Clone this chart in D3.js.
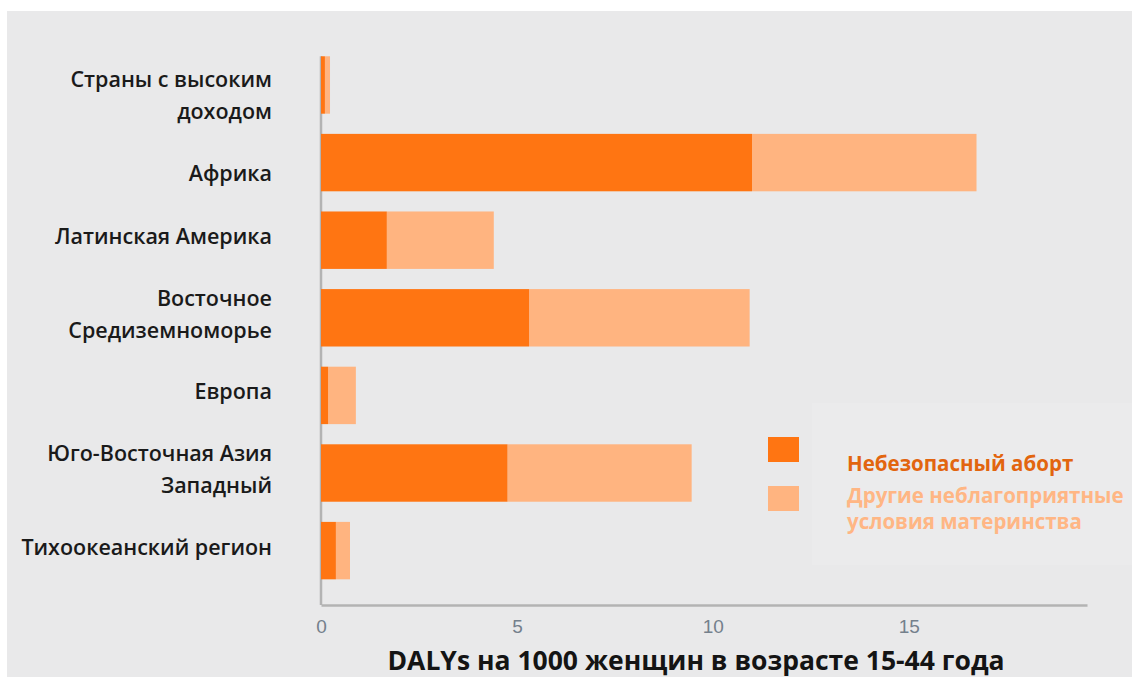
<!DOCTYPE html>
<html lang="ru">
<head>
<meta charset="utf-8">
<script src="https://cdn.jsdelivr.net/npm/d3@7"></script>
<style>
  html, body { margin: 0; padding: 0; background: #ffffff; }
  svg { display: block; }
</style>
</head>
<body>
<svg id="chart" width="1132" height="677"></svg>
<script>
// Regions (top to bottom), each label split into its drawn lines
const categories = [
  "Страны с высоким доходом",
  "Африка",
  "Латинская Америка",
  "Восточное Средиземноморье",
  "Европа",
  "Юго-Восточная Азия Западный",
  "Тихоокеанский регион"
];
const categoryLines = [
  ["Страны с высоким", "доходом"],
  ["Африка"],
  ["Латинская Америка"],
  ["Восточное", "Средиземноморье"],
  ["Европа"],
  ["Юго-Восточная Азия", "Западный"],
  ["Тихоокеанский регион"]
];
// DALYs per 1000 women aged 15-44
const unsafeAbortion = [0.10, 11.00, 1.68, 5.31, 0.18, 4.76, 0.38];
const otherMaternal  = [0.13,  5.73, 2.73, 5.63, 0.71, 4.70, 0.36];
const xTicks = [0, 5, 10, 15];
const seriesNames = ["Небезопасный аборт", "Другие неблагоприятные условия материнства"];
const axisTitle = "DALYs на 1000 женщин в возрасте 15-44 года";

const colDark = "#ff7512";
const colLight = "#ffb480";

const svg = d3.select("#chart");

// panel background
svg.append("rect").attr("x", 7).attr("y", 11).attr("width", 1125).attr("height", 666)
  .attr("fill", "#e9e9ea");
svg.append("rect").attr("x", 812).attr("y", 403).attr("width", 320).attr("height", 162)
  .attr("fill", "#ebebec");

const x = d3.scaleLinear().domain([0, 19.55]).range([321, 1087]);
const y = d3.scaleBand().domain(categories).range([36.1, 599.5])
  .paddingInner(0.26).paddingOuter(0.26);

const rows = categories.map((c, i) => ({
  cat: c, lines: categoryLines[i], a: unsafeAbortion[i], b: otherMaternal[i]
}));

// vertical baseline
svg.append("line").attr("x1", 321).attr("x2", 321)
  .attr("y1", y(categories[0])).attr("y2", 605)
  .attr("stroke", "#b3b3b3").attr("stroke-width", 2.5);

// stacked bars
const g = svg.append("g");
g.selectAll("rect.b").data(rows).join("rect").attr("class", "b")
  .attr("x", d => x(d.a)).attr("y", d => y(d.cat))
  .attr("width", d => x(d.a + d.b) - x(d.a)).attr("height", y.bandwidth())
  .attr("fill", colLight);
g.selectAll("rect.a").data(rows).join("rect").attr("class", "a")
  .attr("x", x(0)).attr("y", d => y(d.cat))
  .attr("width", d => x(d.a) - x(0)).attr("height", y.bandwidth())
  .attr("fill", colDark);

// category labels
const lineGap = 32;
const extraShift = { 0: 14, 1: 14 };
const lab = svg.append("g").attr("font-family", "'Open Sans', sans-serif")
  .attr("font-weight", 600).attr("font-size", 21.5).attr("fill", "#1a1a1a")
  .attr("text-anchor", "end");
rows.forEach((d, i) => {
  const c = y(d.cat) + y.bandwidth() / 2;
  const n = d.lines.length;
  const shift = extraShift[i] || 0;
  d.lines.forEach((t, j) => {
    lab.append("text").attr("x", 272)
      .attr("y", c + 4 + shift + (j - (n - 1) / 2) * lineGap)
      .text(t);
  });
});

// x axis
const xAxis = d3.axisBottom(x).tickValues(xTicks).tickSize(0).tickSizeOuter(0).tickPadding(15)
  .tickFormat(d3.format("d"));
const ax = svg.append("g").attr("transform", "translate(0,605)").call(xAxis);
ax.select(".domain").attr("stroke", "#b3b3b3").attr("stroke-width", 2.5);
ax.selectAll("text").attr("font-family", "'Liberation Sans Narrow', 'Liberation Sans', sans-serif")
  .attr("font-size", 19).attr("fill", "#74808c");

// axis title
svg.append("text").attr("x", 696).attr("y", 670).attr("text-anchor", "middle")
  .attr("font-family", "'Open Sans', sans-serif").attr("font-weight", 700)
  .attr("font-size", 26.5).attr("fill", "#141414").text(axisTitle);

// legend
const leg = svg.append("g");
leg.append("rect").attr("x", 768).attr("y", 437).attr("width", 31).attr("height", 25).attr("fill", colDark);
leg.append("rect").attr("x", 768).attr("y", 486).attr("width", 31).attr("height", 25).attr("fill", colLight);
const legText = leg.append("g").attr("font-family", "'Open Sans', sans-serif")
  .attr("font-weight", 700).attr("font-size", 20.5);
legText.append("text").attr("x", 847).attr("y", 471).attr("fill", "#e2650f").text(seriesNames[0]);
const words = seriesNames[1].split(" ");
legText.append("text").attr("x", 847).attr("y", 503).attr("fill", "#ffb684")
  .text(words.slice(0, 2).join(" "));
legText.append("text").attr("x", 847).attr("y", 529).attr("fill", "#ffb684")
  .text(words.slice(2).join(" "));
</script>
</body>
</html>
